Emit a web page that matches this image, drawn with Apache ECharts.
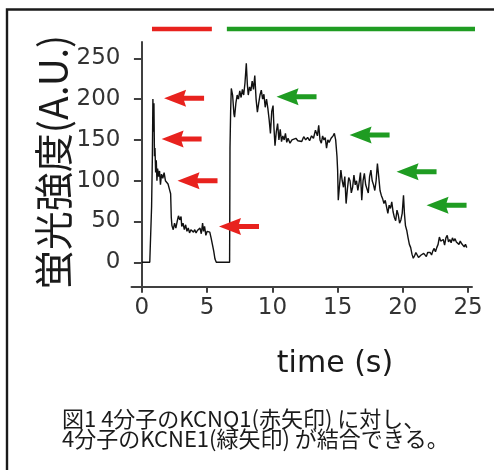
<!DOCTYPE html>
<html>
<head>
<meta charset="utf-8">
<script src="https://cdn.jsdelivr.net/npm/echarts@6/dist/echarts.min.js"></script>
<style>
html,body{margin:0;padding:0;background:#fff;}
#chart{width:494px;height:470px;}
</style>
</head>
<body>
<div id="chart"></div>
<script>
// ---- data ----
const time = [0,0.3,0.6,0.72,0.74,0.8,0.84,0.88,0.92,0.96,1.0,1.05,1.1,1.15,1.2,1.28,1.35,1.42,1.5,1.6,1.7,1.8,1.9,2.0,2.1,2.2,2.25,2.3,2.4,2.5,2.6,2.7,2.8,2.9,3.0,3.05,3.15,3.25,3.35,3.45,3.55,3.65,3.75,3.85,3.95,4.05,4.15,4.25,4.35,4.45,4.55,4.65,4.72,4.8,4.9,5.0,5.1,5.2,5.3,5.4,5.5,5.6,5.7,6.0,6.4,6.72,6.75,6.8,6.85,6.95,7.05,7.1,7.2,7.3,7.4,7.5,7.6,7.7,7.8,7.9,8.0,8.08,8.15,8.25,8.35,8.45,8.55,8.65,8.75,8.85,8.95,9.05,9.15,9.25,9.35,9.45,9.55,9.65,9.75,9.85,9.95,10.05,10.12,10.2,10.3,10.4,10.5,10.6,10.7,10.8,10.9,11.0,11.1,11.2,11.35,11.5,11.65,11.8,11.95,12.1,12.25,12.4,12.55,12.7,12.85,13.0,13.15,13.3,13.45,13.55,13.65,13.75,13.85,13.95,14.05,14.15,14.25,14.35,14.5,14.65,14.75,14.85,14.95,15.0,15.05,15.15,15.25,15.35,15.45,15.55,15.65,15.75,15.85,15.95,16.05,16.15,16.25,16.35,16.45,16.55,16.65,16.75,16.85,16.95,17.05,17.15,17.25,17.35,17.45,17.55,17.65,17.75,17.85,17.95,18.05,18.15,18.25,18.35,18.45,18.55,18.65,18.75,18.85,18.95,19.05,19.15,19.25,19.35,19.45,19.55,19.65,19.75,19.85,19.95,20.05,20.12,20.2,20.3,20.4,20.5,20.6,20.7,20.8,20.9,21.0,21.1,21.2,21.3,21.4,21.5,21.6,21.7,21.8,21.9,22.0,22.1,22.2,22.3,22.4,22.5,22.6,22.7,22.8,22.9,23.0,23.1,23.2,23.3,23.4,23.5,23.6,23.7,23.8,23.9,24.0,24.1,24.2,24.3,24.4,24.5,24.6,24.7,24.8,24.9];
const intensity = [0,0,0,0,68,130,200,160,195,130,140,110,125,100,115,105,112,95,108,103,110,100,98,96,90,84,55,45,40,48,42,50,57,52,56,44,48,40,46,38,42,36,40,38,37,40,36,39,37,42,35,48,38,44,33,38,36,37,30,22,14,4,0,0,0,0,140,186,213,205,182,178,195,205,200,210,202,212,205,220,244,218,205,215,210,222,212,229,200,184,195,205,211,200,206,190,200,189,175,158,185,192,165,143,160,170,150,163,148,155,150,158,147,152,146,150,148,152,149,151,148,154,150,153,149,155,152,162,155,168,150,146,155,150,153,140,150,147,152,155,158,150,130,113,76,95,113,100,92,105,72,90,104,100,85,92,107,95,100,88,98,110,76,100,109,95,97,85,105,113,100,95,88,100,121,105,88,82,78,72,76,68,60,70,66,74,62,55,51,64,58,48,52,60,82,60,45,39,30,22,18,10,5,8,12,9,6,5,9,8,11,10,7,12,10,12,9,14,17,13,18,22,31,26,24,28,21,30,33,25,28,24,30,26,29,25,27,22,26,23,25,19,22,18];

const redArrowT = [3.23, 3.04, 4.26, 7.44];
const redArrowV = [201, 151, 100, 44];
const greenArrowT = [11.85, 17.45, 21.05, 23.35];
const greenArrowV = [203, 156, 111, 70];

const redBarT = [0.77, 5.36];
const greenBarT = [6.51, 25.9];
const barLevel = 286;

const xTicks = [0, 5, 10, 15, 20, 25];
const yTicks = [0, 50, 100, 150, 200, 250];

const xTitle = 'time (s)';
const yTitle = '蛍光強度(A.U.)';
const caption1 = '図1 4分子のKCNQ1(赤矢印) に対し、';
const caption2 = '4分子のKCNE1(緑矢印) が結合できる。';

// ---- chart ----
const RED = '#e8221e';
const GREEN = '#1f9c22';
const arrowPath = 'path://M0 8.5 L22 0 L20 6 L40 6 L40 11 L20 11 L22 17 Z';

const trace = time.map((t, i) => [t, intensity[i]]);
const zip = (a, b) => a.map((t, i) => [t, b[i]]);

const chart = echarts.init(document.getElementById('chart'), null, {renderer: 'canvas'});
const axisColor = '#404040';
chart.setOption({
  animation: false,
  backgroundColor: '#fff',
  grid: {left: 131.5, top: 42, width: 340.5, height: 244.8, containLabel: false},
  xAxis: {
    type: 'value', min: -0.8, max: 25.3,
    axisLine: {show: true, onZero: false, lineStyle: {color: axisColor, width: 2}},
    axisTick: {show: true, length: 6, customValues: xTicks, lineStyle: {color: axisColor, width: 2}},
    axisLabel: {customValues: xTicks, fontFamily: 'DejaVu Sans', fontSize: 23, color: '#333', margin: 10},
    splitLine: {show: false}
  },
  yAxis: {
    type: 'value', min: -30, max: 270,
    axisLine: {show: true, onZero: true, lineStyle: {color: axisColor, width: 2}},
    axisTick: {show: true, length: 8, customValues: yTicks, lineStyle: {color: axisColor, width: 2}},
    axisLabel: {customValues: yTicks, fontFamily: 'DejaVu Sans', fontSize: 23, color: '#333', margin: 11},
    splitLine: {show: false}
  },
  series: [
    {type: 'line', data: trace, showSymbol: false, symbol: 'none',
     lineStyle: {color: '#111', width: 1.4}, z: 3},
    {type: 'line', data: zip(redBarT, [barLevel, barLevel]), symbol: 'none', clip: false,
     lineStyle: {color: RED, width: 4.5}},
    {type: 'line', data: zip(greenBarT, [barLevel, barLevel]), symbol: 'none', clip: false,
     lineStyle: {color: GREEN, width: 4.5}},
    {type: 'scatter', data: zip(redArrowT, redArrowV), symbol: arrowPath, symbolSize: [40, 17],
     itemStyle: {color: RED, opacity: 1}, clip: false, z: 4},
    {type: 'scatter', data: zip(greenArrowT, greenArrowV), symbol: arrowPath, symbolSize: [40, 17],
     itemStyle: {color: GREEN, opacity: 1}, clip: false, z: 4}
  ],
  graphic: [
    {type: 'rect', shape: {x: 7, y: 9.5, width: 520, height: 500},
     style: {fill: 'none', stroke: '#1a1a1a', lineWidth: 2.4}, silent: true},
    {type: 'text', x: 53, y: 162, rotation: Math.PI / 2,
     style: {text: yTitle, font: '39px "Noto Sans CJK JP"', fill: '#1a1a1a', textAlign: 'center', textVerticalAlign: 'middle'}},
    {type: 'text', x: 335, y: 364,
     style: {text: xTitle, font: '30px "DejaVu Sans"', fill: '#1a1a1a', textAlign: 'center', textVerticalAlign: 'middle'}},
    {type: 'text', x: 62, y: 419,
     style: {text: caption1, font: '22px "Noto Sans CJK JP"', fill: '#1a1a1a', textAlign: 'left', textVerticalAlign: 'middle'}},
    {type: 'text', x: 62, y: 439,
     style: {text: caption2, font: '22px "Noto Sans CJK JP"', fill: '#1a1a1a', textAlign: 'left', textVerticalAlign: 'middle'}}
  ]
});
</script>
</body>
</html>
